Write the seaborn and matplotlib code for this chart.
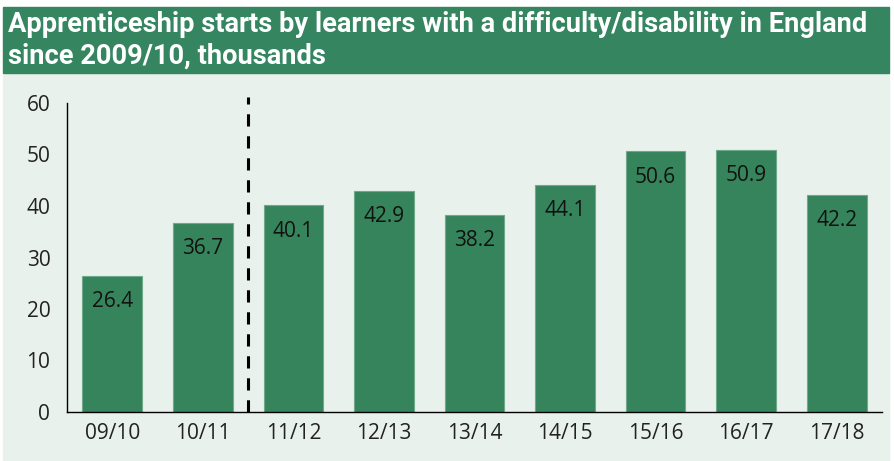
import matplotlib
matplotlib.use("Agg")
import matplotlib.pyplot as plt
import matplotlib.patches as patches
import seaborn as sns
import numpy as np
import pandas as pd

years = ["09/10", "10/11", "11/12", "12/13", "13/14", "14/15", "15/16", "16/17", "17/18"]
starts = [26.4, 36.7, 40.1, 42.9, 38.2, 44.1, 50.6, 50.9, 42.2]
yticks = [0, 10, 20, 30, 40, 50, 60]
break_after = 1  # dashed line between 10/11 and 11/12

green = "#36845c"
bg = "#e8f1ec"

sns.set_style("white")
plt.rcParams["font.family"] = ["Open Sans", "DejaVu Sans"]

df = pd.DataFrame({"year": years, "starts": starts})

fig = plt.figure(figsize=(8.95, 4.61), dpi=100)
fig.patch.set_facecolor("white")
# light background and green title band
fig.patches.append(patches.Rectangle((3 / 895, 0), 886 / 895, 1 - 73 / 461,
                                     transform=fig.transFigure, color=bg, zorder=-5))
fig.patches.append(patches.Rectangle((3 / 895, 1 - 73 / 461), 886 / 895, 66 / 461,
                                     transform=fig.transFigure, color="#358560", zorder=-5))
title_font = ["Roboto", "DejaVu Sans"]
fig.text(8 / 895, 1 - 24 / 461, "Apprenticeship starts by learners with a difficulty/disability in England",
         color="white", fontsize=19.6, fontweight="bold", va="center", ha="left", family=title_font)
fig.text(8 / 895, 1 - 56 / 461, "since 2009/10, thousands",
         color="white", fontsize=19.6, fontweight="bold", va="center", ha="left", family=title_font)

ax = fig.add_axes([67 / 895, 1 - 412 / 461, 815 / 895, 309 / 461])
ax.set_zorder(2)
ax.set_facecolor("none")
sns.barplot(data=df, x="year", y="starts", color=green, saturation=1, width=0.66, ax=ax)
for p in ax.patches:
    p.set_edgecolor("#6fa88a")
    p.set_linewidth(0.8)

for i, v in enumerate(starts):
    ax.annotate(f"{v:.1f}", xy=(i, v), xytext=(0, -18.5), textcoords="offset points",
                ha="center", va="center", fontsize=15, color="#111111")

ax.plot([break_after + 0.5, break_after + 0.5], [0, 61.2], linestyle=(0, (4, 3.2)),
        color="black", linewidth=2.2, clip_on=False)

ax.set_xlim(-0.5, len(years) - 0.5)
ax.set_ylim(0, 60)
ax.set_yticks(yticks)
ax.set_xlabel("")
ax.set_ylabel("")
ax.set_xticks(np.arange(-0.5, len(years) + 0.5), minor=True)
ax.tick_params(axis="x", which="major", length=0, pad=8, labelsize=15, labelcolor="#222222")
ax.tick_params(axis="x", which="minor", length=6, width=1, direction="out", color="black")
ax.tick_params(axis="y", length=6, width=1, direction="out", color="black", pad=6,
               labelsize=15, labelcolor="#222222")
for s in ["top", "right"]:
    ax.spines[s].set_visible(False)
for s in ["left", "bottom"]:
    ax.spines[s].set_color("black")
    ax.spines[s].set_linewidth(1)

fig.savefig("out.png", dpi=100)
